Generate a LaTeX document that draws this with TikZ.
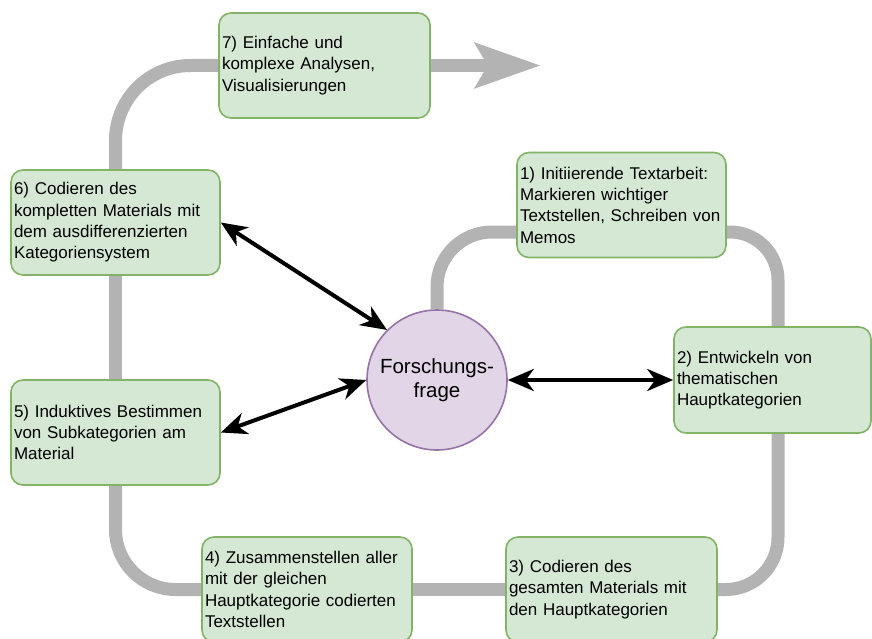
\documentclass[tikz,border=0pt]{standalone}
\usepackage{fontspec}
\setmainfont{Liberation Sans}
\usetikzlibrary{arrows.meta,backgrounds}

\definecolor{stagefill}{HTML}{D5E8D4}
\definecolor{stageline}{HTML}{82B366}
\definecolor{questfill}{HTML}{E1D5E7}
\definecolor{questline}{HTML}{9673A6}
\definecolor{flowgray}{HTML}{B3B3B3}

\tikzset{
    stage/.style={draw=stageline, fill=stagefill, line width=1.6pt,
        rounded corners=12pt, align=left, inner xsep=3pt, inner ysep=0pt,
        text width=204pt, minimum height=105pt,
        font=\fontsize{17}{21.3}\selectfont},
    flow/.style={draw=flowgray, line width=13pt, rounded corners=#1},
    flow/.default=50pt,
    link/.style={draw=black, line width=4pt,
        {Stealth[length=26pt,width=22pt,inset=8pt]}-{Stealth[length=26pt,width=22pt,inset=8pt]}}
}

\begin{document}
\begin{tikzpicture}[x=1pt,y=-1pt]
        \useasboundingbox (0,0) rectangle (872,639);

        % research question in the middle
        \node [circle, draw=questline, fill=questfill, line width=1.6pt,
            minimum size=140pt, inner sep=0pt, align=center,
            font=\fontsize{20.5}{24.6}\selectfont] (quest) at (437,380) {Forschungs-\\frage};

        % the seven phases
        \node [stage, text width=203pt] (phase1) at (621.5,205) {1) Initiierende Textarbeit:\\Markieren wichtiger\\Textstellen, Schreiben von\\Memos};
        \node [stage, text width=191pt, minimum height=106pt] (phase2) at (772.5,380) {2) Entwickeln von\\thematischen\\Hauptkategorien};
        \node [stage, text width=205pt] (phase3) at (611.5,589.5) {3) Codieren des\\gesamten Materials mit\\den Hauptkategorien};
        \node [stage] (phase4) at (307,589.5) {4) Zusammenstellen aller\\mit der gleichen\\Hauptkategorie codierten\\Textstellen};
        \node [stage, text width=203pt] (phase5) at (115.5,432.5) {5) Induktives Bestimmen\\von Subkategorien am\\Material};
        \node [stage, text width=203pt] (phase6) at (115.5,222.5) {6) Codieren des\\kompletten Materials mit\\dem ausdifferenzierten\\Kategoriensystem};
        \node [stage, text width=205pt] (phase7) at (324.5,65.5) {7) Einfache und\\komplexe Analysen,\\Visualisierungen};

        \coordinate (goal) at ([xshift=110pt]phase7.east);

        % grey process line behind the boxes
        \begin{scope}[on background layer]
            \draw [flow=55pt] (quest.north) |- ([yshift=-27pt]phase1.west);
            \draw [flow=48pt] ([yshift=-27pt]phase1.east) -| ([xshift=5.5pt]phase2.north);
            \draw [flow=52pt] ([xshift=5.5pt]phase2.south) |- (phase3.east);
            \draw [flow] (phase3.west) -- (phase4.east);
            \draw [flow=60pt] (phase4.west) -| (phase5.south);
            \draw [flow] (phase5.north) -- (phase6.south);
            \draw [flow=75pt] (phase6.north) |- (phase7.west);
            \draw [flow, -{Stealth[length=65pt,width=44pt,inset=12pt]}] (phase7.east) -- (goal);
        \end{scope}

        % links to the research question
        \draw [link] (phase6.east) -- (quest.north west);
        \draw [link] (phase5.east) -- (quest.west);
        \draw [link] (quest.east) -- (phase2.west);
    \end{tikzpicture}
\end{document}
